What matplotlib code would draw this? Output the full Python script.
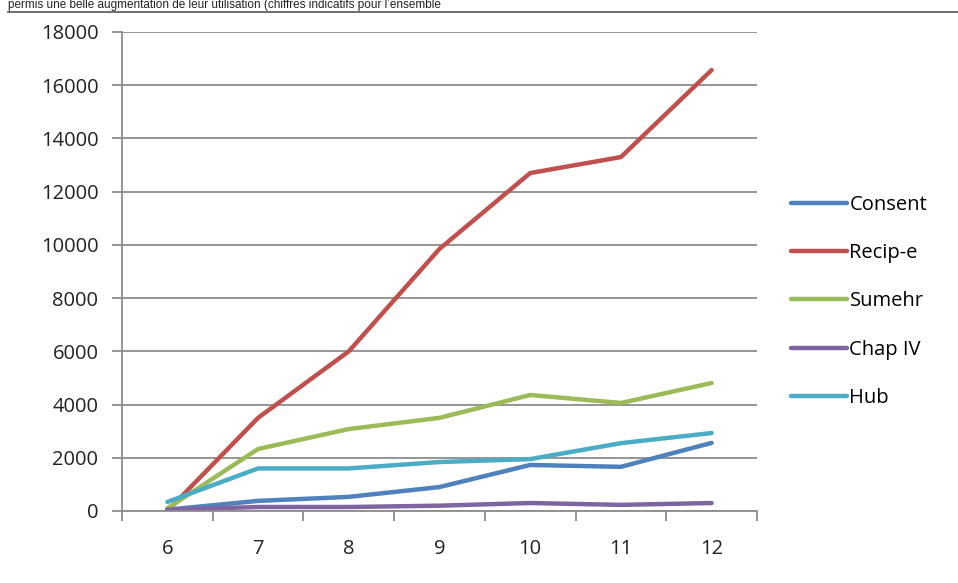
import matplotlib
matplotlib.use("Agg")
import matplotlib.pyplot as plt
from matplotlib.lines import Line2D

# data
months = ["6", "7", "8", "9", "10", "11", "12"]
consent = [50, 380, 530, 900, 1730, 1660, 2560]
recipe = [0, 3500, 6000, 9850, 12700, 13300, 16570]
sumehr = [100, 2330, 3080, 3500, 4360, 4060, 4810]
chap_iv = [50, 150, 150, 200, 300, 230, 300]
hub = [340, 1600, 1600, 1840, 1950, 2550, 2930]

series_names = ["Consent", "Recip-e", "Sumehr", "Chap IV", "Hub"]
colors = ["#4F81BD", "#C0504D", "#9BBB59", "#8064A2", "#4BACC6"]
y_ticks = list(range(0, 18001, 2000))

plt.rcParams['font.family'] = ['Open Sans', 'DejaVu Sans']
grid_col = "#8C8C8C"
fs = 14.5

fig = plt.figure(figsize=(9.58, 5.83), dpi=100)
W, H = 958, 583
ax = fig.add_axes([122 / W, 1 - 511 / H, (757 - 122) / W, (511 - 32) / H])

x = list(range(len(months)))
for vals, name, col in zip([consent, recipe, sumehr, chap_iv, hub], series_names, colors):
    ax.plot(x, vals, color=col, lw=3.2, label=name, solid_capstyle='round', solid_joinstyle='round')

ax.set_xlim(-0.5, len(months) - 0.5)
ax.set_ylim(0, 18000)
ax.set_yticks(y_ticks)
ax.set_yticklabels([str(v) for v in y_ticks], fontsize=fs, color="#222222")
ax.yaxis.grid(True, color=grid_col, lw=1.3)
ax.set_axisbelow(True)

# categories between tick marks
ax.set_xticks([i - 0.5 for i in range(len(months) + 1)])
ax.set_xticklabels([])
ax.set_xticks(x, minor=True)
ax.set_xticklabels(months, minor=True, fontsize=fs, color="#222222")
ax.tick_params(axis='x', which='minor', length=0, pad=20)
ax.tick_params(axis='x', which='major', length=7, width=1.3, color=grid_col, direction='out')
ax.tick_params(axis='y', length=7, width=1.3, color=grid_col, direction='out', pad=10)

for s in ["top", "right"]:
    ax.spines[s].set_visible(False)
for s in ["left", "bottom"]:
    ax.spines[s].set_color(grid_col)
    ax.spines[s].set_linewidth(1.3)

handles = [Line2D([0], [0], color=c, lw=3.2, solid_capstyle='round') for c in colors]
fig.legend(handles, series_names, loc='upper left', bbox_to_anchor=(783 / W, 1 - 187 / H),
           frameon=False, fontsize=fs, handlelength=2.8, handletextpad=0.1,
           labelspacing=1.4, borderaxespad=0)

# caption line at the very top
fig.text(8 / W, 1 - 8 / H, "permis une belle augmentation de leur utilisation (chiffres indicatifs pour l\u2019ensemble",
         fontsize=8.5, family='Liberation Sans', va='baseline', ha='left', color="#222222")
fig.add_artist(Line2D([8 / W, 1], [1 - 12 / H, 1 - 12 / H], color="#555555", lw=1.2))

fig.savefig("out.png", dpi=100)
